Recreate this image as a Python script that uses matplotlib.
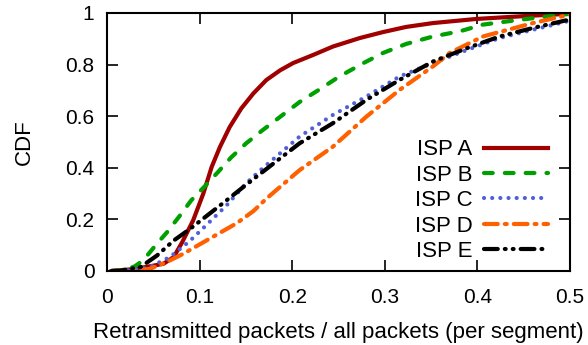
import numpy as np
import matplotlib
matplotlib.use('Agg')
from matplotlib import pyplot as plt

plt.rcParams['font.family'] = ['Liberation Sans', 'DejaVu Sans']

# values
x_a = [0.005, 0.01, 0.028, 0.046, 0.061, 0.072, 0.081, 0.093, 0.104, 0.113, 0.122, 0.1325, 0.145, 0.158,
       0.172, 0.187, 0.201, 0.223, 0.244, 0.273, 0.298, 0.323, 0.352, 0.399, 0.46, 0.5]
y_a = [0.0, 0.002, 0.007, 0.018, 0.028, 0.054, 0.11, 0.196, 0.30, 0.403, 0.481, 0.558, 0.63, 0.688,
       0.74, 0.778, 0.806, 0.838, 0.87, 0.903, 0.926, 0.946, 0.961, 0.977, 0.99, 0.997]

x_b = [0.005, 0.02, 0.03, 0.039, 0.054, 0.065, 0.079, 0.091, 0.1055, 0.12, 0.134, 0.15, 0.167, 0.208,
       0.23, 0.251, 0.277, 0.298, 0.323, 0.352, 0.381, 0.406, 0.442, 0.5]
y_b = [0.0, 0.005, 0.018, 0.041, 0.106, 0.151, 0.216, 0.274, 0.328, 0.384, 0.44, 0.494, 0.543, 0.655,
       0.705, 0.754, 0.806, 0.845, 0.88, 0.909, 0.929, 0.955, 0.972, 0.997]

x_c = [0.005, 0.02, 0.035, 0.046, 0.068, 0.089, 0.107, 0.129, 0.15, 0.168, 0.208, 0.244, 0.28, 0.316,
       0.352, 0.389, 0.424, 0.46, 0.5]
y_c = [0.0, 0.002, 0.007, 0.015, 0.054, 0.115, 0.177, 0.254, 0.339, 0.398, 0.521, 0.605, 0.676, 0.754,
       0.806, 0.857, 0.903, 0.935, 0.97]

x_d = [0.005, 0.02, 0.039, 0.046, 0.064, 0.0825, 0.1, 0.118, 0.14, 0.158, 0.172, 0.208, 0.244, 0.28,
       0.316, 0.352, 0.37, 0.406, 0.46, 0.5]
y_d = [0.0, 0.002, 0.005, 0.008, 0.034, 0.067, 0.103, 0.14, 0.185, 0.232, 0.28, 0.391, 0.482, 0.598,
       0.702, 0.793, 0.845, 0.909, 0.961, 0.994]

x_e = [0.005, 0.014, 0.036, 0.054, 0.072, 0.09, 0.106, 0.126, 0.147, 0.172, 0.208, 0.244, 0.28,
       0.316, 0.352, 0.389, 0.424, 0.46, 0.5]
y_e = [0.0, 0.001, 0.015, 0.06, 0.118, 0.164, 0.209, 0.265, 0.325, 0.395, 0.495, 0.573, 0.663,
       0.741, 0.812, 0.864, 0.909, 0.942, 0.975]

labels = ['ISP A', 'ISP B', 'ISP C', 'ISP D', 'ISP E']

fig = plt.figure(figsize=(5.88, 3.45), dpi=100)
ax = fig.add_axes([107 / 588, 1 - 271 / 345, 463 / 588, 258 / 345])

lw = 3
ax.plot(x_a, y_a, color='#a00000', lw=lw, ls='-', label=labels[0])
ax.plot(x_b, y_b, color='#00a000', lw=lw, ls=(0, (2.1, 2.9)), dash_capstyle='round', label=labels[1])
ax.plot(x_c, y_c, color='#5060d8', lw=lw, ls=(0, (0.01, 1.95)), dash_capstyle='round', label=labels[2])
ax.plot(x_d, y_d, color='#ff6000', lw=lw, ls=(0, (3.3, 1.7, 0.45, 1.7)), dash_capstyle='round', label=labels[3])
ax.plot(x_e, y_e, color='black', lw=lw, ls=(0, (3.3, 1.7, 0.2, 1.7, 0.2, 1.7)), dash_capstyle='round',
        label=labels[4])

ax.set_xlim(0, 0.5)
ax.set_ylim(0, 1)
ax.set_xticks([0, 0.1, 0.2, 0.3, 0.4, 0.5])
ax.set_xticklabels(['0', '0.1', '0.2', '0.3', '0.4', '0.5'])
ax.set_yticks([0, 0.2, 0.4, 0.6, 0.8, 1])
ax.set_yticklabels(['0', '0.2', '0.4', '0.6', '0.8', '1'])
ax.tick_params(direction='in', top=True, right=True, length=8, width=1.2, labelsize=15)
ax.tick_params(axis='x', pad=12)
ax.tick_params(axis='y', pad=9)
for s in ax.spines.values():
    s.set_linewidth(1.5)

ax.set_xlabel('Retransmitted packets / all packets (per segment)', fontsize=16, labelpad=11)
ax.set_ylabel('CDF', fontsize=16, labelpad=22)

leg = ax.legend(loc='lower right', bbox_to_anchor=(0.972, 0.0), frameon=False, markerfirst=False,
                fontsize=16, handlelength=2.9, handletextpad=0.5, labelspacing=0.2, borderaxespad=0)

fig.savefig('out.png', dpi=100)
